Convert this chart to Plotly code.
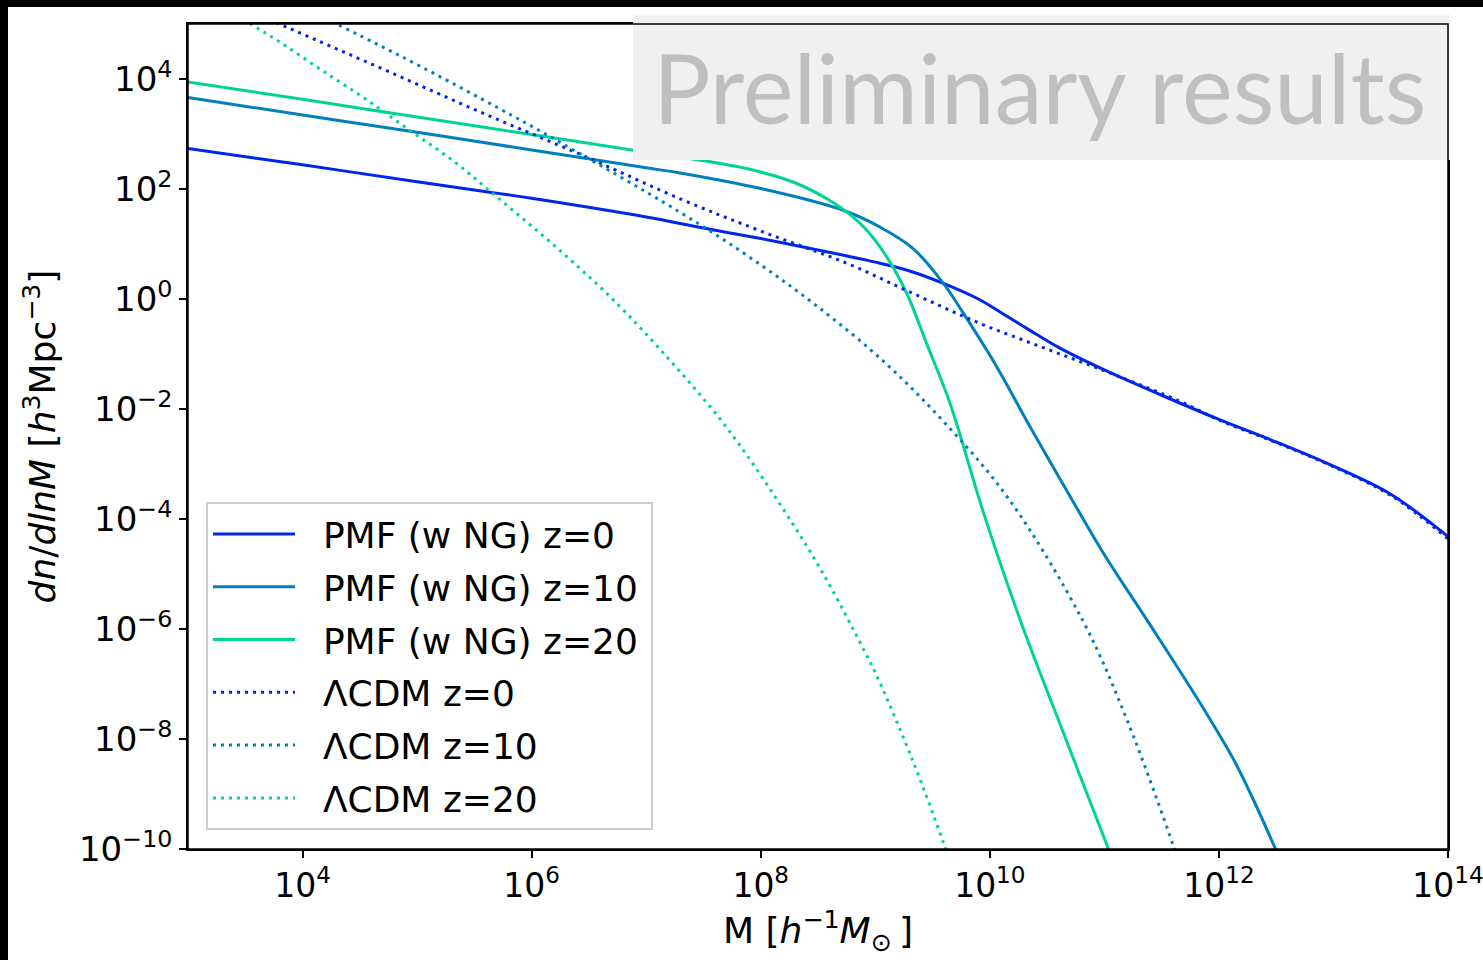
import plotly.graph_objects as go

# ---- data (log10 M [h^-1 Msun], log10 dn/dlnM [h^3 Mpc^-3]) ----
pmf_z0_logM = [3.0, 4.0, 5.0, 5.62, 6.0, 7.0, 7.5, 8.0, 8.5, 9.0, 9.3, 9.6, 9.9, 10.1, 10.35, 10.6, 11.0, 11.5, 12.0, 12.5, 13.0, 13.5, 14.0]
pmf_z0_logn = [2.735, 2.44, 2.13, 1.947, 1.83, 1.49, 1.29, 1.10, 0.89, 0.67, 0.51, 0.28, 0.0, -0.25, -0.57, -0.88, -1.29, -1.75, -2.19, -2.60, -3.04, -3.55, -4.32]

pmf_z10_logM = [3.0, 4.0, 5.0, 6.0, 7.0, 7.295, 8.02, 8.72, 9.04, 9.33, 9.595, 9.77, 10.06, 10.35, 10.69, 11.0, 11.37, 11.837, 12.13, 12.3, 12.49, 12.6]
pmf_z10_logn = [3.662, 3.346, 3.03, 2.71, 2.385, 2.292, 2.0, 1.614, 1.31, 0.918, 0.283, -0.262, -1.23, -2.32, -3.55, -4.65, -5.83, -7.35, -8.38, -9.1, -9.98, -10.5]

pmf_z20_logM = [3.0, 4.0, 5.0, 6.0, 7.0, 7.295, 7.877, 8.315, 8.6, 8.75, 8.926, 9.1, 9.275, 9.45, 9.653, 9.944, 10.264, 10.643, 11.036, 11.15]
pmf_z20_logn = [3.946, 3.63, 3.31, 2.99, 2.67, 2.583, 2.372, 2.1, 1.796, 1.584, 1.251, 0.766, 0.1, -0.82, -1.90, -3.88, -5.83, -7.89, -10.0, -10.6]

lcdm_z0_logM = [3.0, 3.959, 4.76, 5.618, 6.477, 7.32, 8.02, 8.75, 9.33, 9.91, 10.5, 11.08, 11.66, 12.0, 12.5, 13.0, 13.5, 14.0]
lcdm_z0_logn = [5.72, 4.854, 4.127, 3.34, 2.583, 1.80, 1.22, 0.651, 0.10, -0.44, -0.91, -1.37, -1.86, -2.2, -2.61, -3.05, -3.57, -4.36]

lcdm_z10_logM = [3.0, 4.34, 5.04, 5.72, 6.14, 7.29, 7.89, 8.46, 9.06, 9.61, 10.16, 10.815, 11.197, 11.604, 11.7]
lcdm_z10_logn = [6.32, 4.957, 4.218, 3.46, 2.977, 1.584, 0.779, -0.08, -1.11, -2.26, -3.62, -5.86, -7.65, -9.95, -10.55]

lcdm_z20_logM = [3.0, 3.566, 3.77, 4.16, 4.557, 4.935, 5.328, 5.678, 6.042, 6.39, 6.731, 7.216, 7.683, 8.134, 8.535, 8.903, 9.041, 9.319, 9.595, 9.7]
lcdm_z20_logn = [5.68, 4.976, 4.716, 4.17, 3.626, 3.068, 2.492, 1.887, 1.251, 0.615, -0.053, -1.136, -2.283, -3.622, -4.959, -6.39, -6.98, -8.35, -9.88, -10.5]

x_tick_exps = [4, 6, 8, 10, 12, 14]
y_tick_exps = [4, 2, 0, -2, -4, -6, -8, -10]

C0 = "#0026ec"
C10 = "#0080bf"
C20 = "#00d495"

def sup_label(e):
    s = str(e).replace("-", "\u2212")
    return "10<sup>" + s + "</sup>"

NB = "\u00a0\u00a0"
TAIL = "\u2009"
series = [
    ("PMF (w NG) z=0", pmf_z0_logM, pmf_z0_logn, C0, "solid"),
    ("PMF (w NG) z=10", pmf_z10_logM, pmf_z10_logn, C10, "solid"),
    ("PMF (w NG) z=20", pmf_z20_logM, pmf_z20_logn, C20, "solid"),
    ("\u039bCDM z=0", lcdm_z0_logM, lcdm_z0_logn, C0, "3px,5px"),
    ("\u039bCDM z=10", lcdm_z10_logM, lcdm_z10_logn, C10, "3px,5px"),
    ("\u039bCDM z=20", lcdm_z20_logM, lcdm_z20_logn, C20, "3px,5px"),
]

FONT = "DejaVu Sans"
fig = go.Figure()
for i, (name, lx, ly, col, dash) in enumerate(series):
    fig.add_trace(go.Scatter(
        x=[10 ** v for v in lx], y=[10 ** v for v in ly], mode="lines", name=NB + name + TAIL,
        legendgroup="g%d" % i,
        line=dict(color=col, width=3, dash=dash, shape="spline", smoothing=1.0),
    ))

W, H = 1483, 960
L, R, T, B = 188, 35, 24, 111
pw, ph = W - L - R, H - T - B

def px2x(px):
    return (px - L) / pw

def py2y(py):
    return (H - B - py) / ph

fig.update_layout(
    width=W, height=H,
    margin=dict(l=L, r=R, t=T, b=B, autoexpand=False),
    paper_bgcolor="white", plot_bgcolor="white",
    font=dict(family=FONT, size=34, color="black"),
    showlegend=True,
    legend=dict(
        x=px2x(206), y=py2y(502), xanchor="left", yanchor="top",
        bgcolor="rgba(255,255,255,0.8)", bordercolor="#cccccc", borderwidth=2,
        font=dict(family=FONT, size=36, color="black"),
        traceorder="grouped", tracegroupgap=3, itemwidth=82,
    ),
    xaxis=dict(
        type="log", range=[3, 14], automargin=False, ticklabeloverflow="allow",
        tickvals=[10 ** e for e in x_tick_exps], ticktext=[sup_label(e) for e in x_tick_exps],
        ticks="outside", ticklen=7, tickwidth=1.5, tickcolor="black",
        showline=True, linecolor="black", linewidth=1.5, mirror=True,
        showgrid=False, zeroline=False,
        tickfont=dict(family=FONT, size=33),
        title=dict(text="M [<i>h</i><sup>\u22121</sup><i>M</i><sub>\u2299</sub>\u2009]",
                   font=dict(family=FONT, size=36), standoff=10),
    ),
    yaxis=dict(
        type="log", range=[-10, 5], automargin=False, ticklabeloverflow="allow",
        tickvals=[10 ** e for e in y_tick_exps], ticktext=[sup_label(e) for e in y_tick_exps],
        ticks="outside", ticklen=7, tickwidth=1.5, tickcolor="black",
        showline=True, linecolor="black", linewidth=1.5, mirror=True,
        showgrid=False, zeroline=False,
        tickfont=dict(family=FONT, size=34),
        title=dict(text="<i>dn</i>/<i>dlnM</i> [<i>h</i><sup>3</sup>Mpc<sup>\u22123</sup>]",
                   font=dict(family=FONT, size=36), standoff=12),
    ),
    shapes=[
        dict(type="rect", xref="paper", yref="paper", layer="above",
             x0=px2x(633), x1=px2x(1450), y0=py2y(160), y1=py2y(15),
             fillcolor="#f0f0f0", line=dict(width=0)),
        dict(type="rect", xref="paper", yref="paper", layer="above",
             x0=0, x1=1, y0=0, y1=1, line=dict(color="black", width=1.5)),
        dict(type="rect", xref="paper", yref="paper", layer="above",
             x0=px2x(0), x1=px2x(8), y0=py2y(960), y1=py2y(0),
             fillcolor="black", line=dict(width=0)),
        dict(type="rect", xref="paper", yref="paper", layer="above",
             x0=px2x(0), x1=px2x(1483), y0=py2y(7), y1=py2y(0),
             fillcolor="black", line=dict(width=0)),
    ],
    annotations=[
        dict(text="Preliminary results", xref="paper", yref="paper",
             x=px2x(1039), y=py2y(86), xanchor="center", yanchor="middle",
             showarrow=False, font=dict(family="Lato", size=96, color="#bfbfbf")),
    ],
)

fig.write_html("out.html")
